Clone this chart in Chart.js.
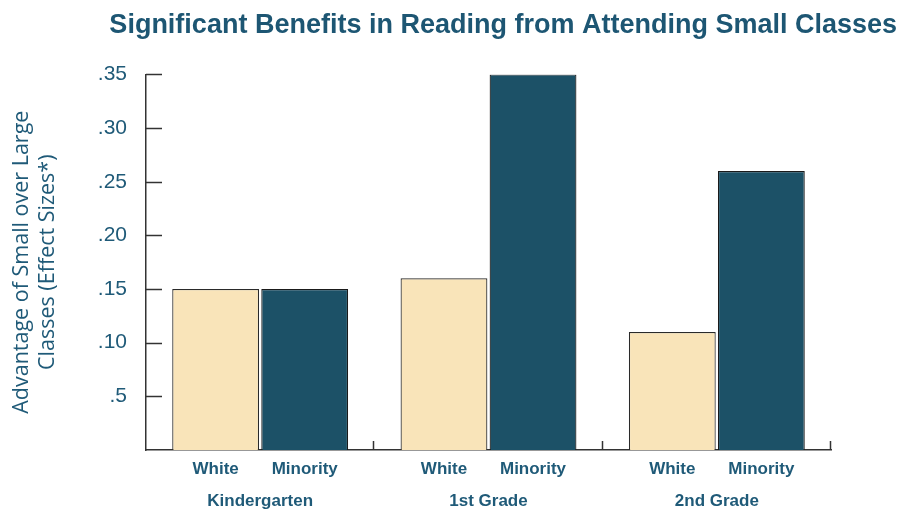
<!DOCTYPE html>
<html>
<head>
<meta charset="utf-8">
<script src="https://cdn.jsdelivr.net/npm/chart.js@4.4.1/dist/chart.umd.min.js"></script>
<style>
  html, body { margin: 0; padding: 0; background: #fff; }
  #wrap { width: 903px; height: 514px; }
</style>
</head>
<body>
<div id="wrap"><canvas id="grafico"></canvas></div>
<script>
// datos
const grados = ["Kindergarten", "1st Grade", "2nd Grade"];
const blancos = [0.15, 0.16, 0.11];
const minorias = [0.15, 0.35, 0.26];
const etiquetasY = ["", ".5", ".10", ".15", ".20", ".25", ".30", ".35"];

const azulTexto = "#1f5a78";

// marcas cortas hacia dentro en los ejes y nombres de serie bajo cada barra
const marcasInternas = {
  id: "marcasInternas",
  afterDraw(chart) {
    const ctx = chart.ctx;
    const ey = chart.scales.y;
    const ex = chart.scales.x;
    ctx.save();
    ctx.strokeStyle = "#333";
    ctx.lineWidth = 1.5;
    ey.ticks.forEach((t, i) => {
      if (t.value <= 0) return;
      const py = Math.round(ey.getPixelForTick(i)) + 0.5;
      ctx.beginPath();
      ctx.moveTo(ey.right, py);
      ctx.lineTo(ey.right + 16, py);
      ctx.stroke();
    });
    const ancho = ex.width / grados.length;
    for (let i = 1; i <= grados.length; i++) {
      const px = Math.round(ex.left + ancho * i) - 0.5;
      ctx.beginPath();
      ctx.moveTo(px, ex.top);
      ctx.lineTo(px, ex.top - 9);
      ctx.stroke();
    }
    // White / Minority
    ctx.fillStyle = azulTexto;
    ctx.font = "bold 17px 'Liberation Sans', Arial, sans-serif";
    ctx.textAlign = "center";
    ctx.textBaseline = "middle";
    chart.data.datasets.forEach((ds, d) => {
      chart.getDatasetMeta(d).data.forEach(barra => {
        ctx.fillText(ds.label, barra.x, ex.top + 19);
      });
    });
    ctx.restore();
  }
};

const ctx = document.getElementById("grafico").getContext("2d");
new Chart(ctx, {
  type: "bar",
  data: {
    labels: grados,
    datasets: [
      {
        label: "White",
        data: blancos,
        backgroundColor: "#f9e4b9",
        borderColor: "#2a2a2a",
        borderWidth: 1.2,
        categoryPercentage: 0.78,
        barPercentage: 0.975
      },
      {
        label: "Minority",
        data: minorias,
        backgroundColor: "#1c5167",
        borderColor: "#1a1a1a",
        borderWidth: 1.2,
        categoryPercentage: 0.78,
        barPercentage: 0.975
      }
    ]
  },
  options: {
    responsive: true,
    maintainAspectRatio: false,
    animation: false,
    layout: { padding: { left: 5, right: 6, top: 9, bottom: 0 } },
    plugins: {
      legend: { display: false },
      tooltip: { enabled: false },
      title: {
        display: true,
        text: "Significant Benefits in Reading from Attending Small Classes",
        align: "end",
        color: "#1d5673",
        font: { family: "'Liberation Sans', Arial, sans-serif", size: 27, weight: "bold", lineHeight: 1.2 },
        padding: { top: 0, bottom: 33 }
      }
    },
    scales: {
      x: {
        offset: true,
        grid: { display: false, drawTicks: false },
        border: { display: true, color: "#333", width: 1.5 },
        ticks: {
          color: azulTexto,
          padding: 41,
          font: { family: "'Liberation Sans', Arial, sans-serif", size: 17, weight: "bold" }
        },
        afterFit(s) { s.height = 64; }
      },
      y: {
        min: 0,
        max: 0.35,
        grid: { display: false, drawTicks: false },
        border: { display: true, color: "#333", width: 1.5 },
        ticks: {
          stepSize: 0.05,
          color: azulTexto,
          padding: 19,
          font: { family: "'Liberation Sans', Arial, sans-serif", size: 21 },
          callback: (v, i) => etiquetasY[i]
        },
        title: {
          display: true,
          text: ["Advantage of Small over Large", "Classes (Effect Sizes*)"],
          color: azulTexto,
          font: { family: "'Open Sans', sans-serif", size: 21.5, lineHeight: 1.2 },
          padding: { top: 4, bottom: 4 }
        },
        afterFit(s) { s.width = 141; }
      },
      derecha: {
        position: "right",
        display: true,
        grid: { display: false, drawTicks: false },
        border: { display: false },
        ticks: { display: false },
        afterFit(s) { s.width = 66; }
      }
    }
  },
  plugins: [marcasInternas]
});
</script>
</body>
</html>
